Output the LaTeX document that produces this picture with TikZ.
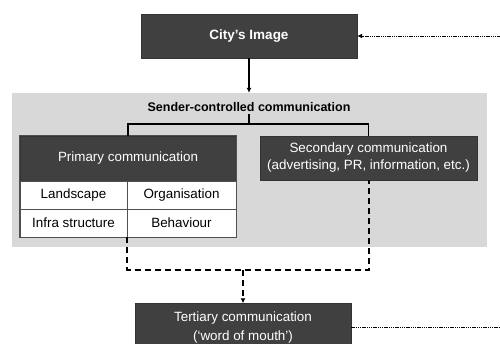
\documentclass[tikz,border=0pt]{standalone}
\usepackage{fontspec}
\setmainfont{Liberation Sans}
\usetikzlibrary{arrows.meta}
\definecolor{boxfill}{HTML}{404040}
\definecolor{panelgray}{HTML}{D8D8D8}
\definecolor{cellline}{HTML}{505050}
\tikzset{
  darkstyle/.style={rectangle, fill=boxfill, draw=boxfill!80!black, text=white, align=center, inner sep=0pt, font=\fontsize{13.4}{17}\selectfont},
  cellbox/.style={rectangle, fill=white, draw=cellline, line width=0.8pt, inner sep=0pt, minimum height=28pt, font=\fontsize{13.4}{16}\selectfont},
  solidconn/.style={line width=1.4pt, black},
  dashconn/.style={line width=2pt, black, dash pattern=on 6pt off 4pt},
  dotconn/.style={line width=1pt, black, dash pattern=on 1.3pt off 0.9pt},
  tip/.style={-{Latex[length=5pt,width=5pt]}}
}
\begin{document}
\begin{tikzpicture}[x=1pt,y=-1pt]
\useasboundingbox (0,0) rectangle (500,343);
\fill[white] (0,0) rectangle (500,343);
% panel
\node[rectangle, fill=panelgray, minimum width=475pt, minimum height=154pt, inner sep=0pt] (panel) at (249.5,170) {};
\node[font=\fontsize{12.5}{15}\selectfont\bfseries, inner sep=2pt] (sender) at (249,107) {Sender-controlled communication};
% top box
\node[darkstyle, minimum width=216pt, minimum height=44pt, font=\fontsize{13.5}{16}\selectfont\bfseries] (city) at (249,36) {City’s Image};
% primary
\node[darkstyle, minimum width=216pt, minimum height=45pt] (primary) at (128,158.5) {Primary communication};
\node[cellbox, minimum width=107pt] (landscape) at (73.5,195) {Landscape};
\node[cellbox, minimum width=109pt] (organisation) at (181.5,195) {Organisation};
\node[cellbox, minimum width=107pt] (infra) at (73.5,223) {Infra structure};
\node[cellbox, minimum width=109pt] (behaviour) at (181.5,223) {Behaviour};
\draw[draw=cellline, line width=1.2pt] (primary.north west) rectangle (behaviour.south east);
% secondary
\node[darkstyle, minimum width=217pt, minimum height=44pt] (secondary) at (368.5,158) {Secondary communication\\(advertising, PR, information, etc.)};
% tertiary
\node[darkstyle, minimum width=216pt, minimum height=48pt, font=\fontsize{13.4}{19}\selectfont] (tertiary) at (243,327.5) {Tertiary communication\\(‘word of mouth’)};
% coordinates
\coordinate (fork) at (249,124);
\coordinate (join) at (243,270);
\coordinate (loop) at (520,180);
% connectors
\draw[solidconn, tip] (city.south) -- (city.south |- panel.north);
\draw[solidconn] (sender.south) -- (fork);
\draw[solidconn] (primary.north) |- (fork) -| (secondary.north);
\draw[dashconn] (infra.south east) |- (join) -| (secondary.south);
\draw[dashconn, tip] (join) -- (tertiary.north);
\draw[dotconn, tip] (tertiary.east) -| (loop) |- (city.east);
\end{tikzpicture}
\end{document}
